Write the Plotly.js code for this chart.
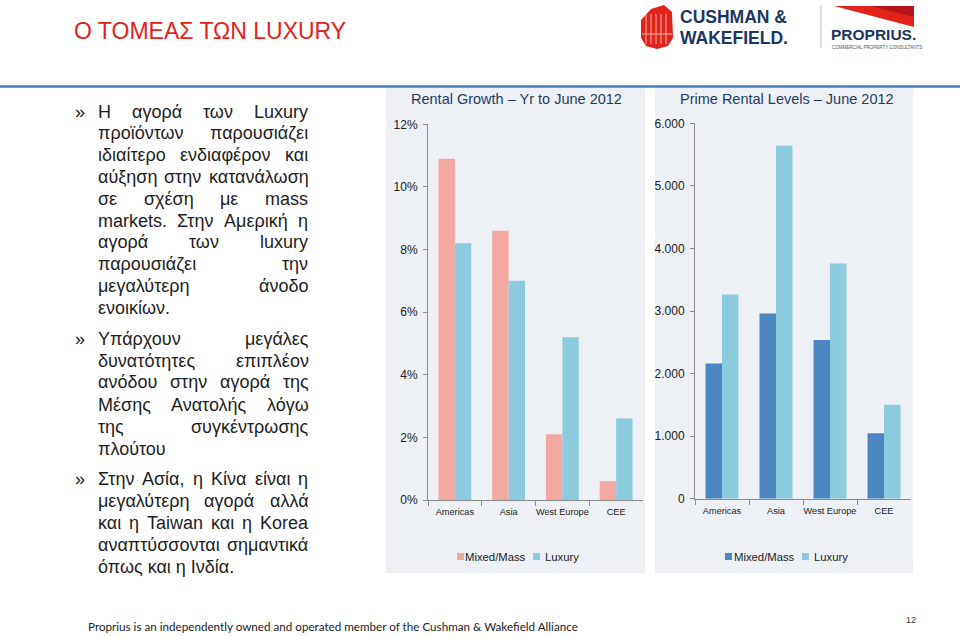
<!DOCTYPE html>
<html><head><meta charset="utf-8">
<script src="https://cdn.plot.ly/plotly-3.0.1.min.js"></script>
<style>html,body{margin:0;padding:0;background:#fff;}#chart{width:960px;height:636px;}</style>
</head><body><div id="chart"></div>
<script>
// ---------- DATA ----------
const categories = ['Americas', 'Asia', 'West Europe', 'CEE'];
const seriesNames = ['Mixed/Mass', 'Luxury'];
const growthMixed = [10.9, 8.6, 2.1, 0.6];      // % rental growth
const growthLuxury = [8.2, 7.0, 5.2, 2.6];
const rentMixed = [2160, 2960, 2535, 1045];      // prime rental levels
const rentLuxury = [3265, 5640, 3760, 1500];
const growthTicks = [0, 2, 4, 6, 8, 10, 12];
const growthTickLabels = ['0%', '2%', '4%', '6%', '8%', '10%', '12%'];
const rentTicks = [0, 1000, 2000, 3000, 4000, 5000, 6000];
const rentTickLabels = ['0', '1.000', '2.000', '3.000', '4.000', '5.000', '6.000'];
const chartTitles = ['Rental Growth \u2013 Yr to June 2012', 'Prime Rental Levels \u2013 June 2012'];
const pageTitle = 'Ο ΤΟΜΕΑΣ ΤΩΝ LUXURY';
const paragraph1 = ['Η αγορά των Luxury', 'προϊόντων παρουσιάζει', 'ιδιαίτερο ενδιαφέρον και', 'αύξηση στην κατανάλωση', 'σε σχέση με mass', 'markets. Στην Αμερική η', 'αγορά των luxury', 'παρουσιάζει την', 'μεγαλύτερη άνοδο', 'ενοικίων.'];
const paragraph2 = ['Υπάρχουν μεγάλες', 'δυνατότητες επιπλέον', 'ανόδου στην αγορά της', 'Μέσης Ανατολής λόγω', 'της συγκέντρωσης', 'πλούτου'];
const paragraph3 = ['Στην Ασία, η Κίνα είναι η', 'μεγαλύτερη αγορά αλλά', 'και η Taiwan και η Korea', 'αναπτύσσονται σημαντικά', 'όπως και η Ινδία.'];
const footerText = 'Proprius is an independently owned and operated member of the Cushman & Wakefield Alliance';
const pageNumber = '12';

// ---------- LAYOUT HELPERS ----------
const W = 960, H = 636;
const px = x => x / W;
const py = y => 1 - y / H;
const SANS = 'Liberation Sans, Arial, sans-serif';
const annotations = [];
const shapes = [];

function txt(text, x, y, opts) {
  opts = opts || {};
  annotations.push({
    text: text, xref: 'paper', yref: 'paper', x: px(x), y: py(y),
    xanchor: opts.xanchor || 'left', yanchor: opts.yanchor || 'middle',
    showarrow: false, borderpad: 0, borderwidth: 0,
    font: {family: opts.family || SANS, size: opts.size || 12, color: opts.color || '#222',
           weight: opts.weight || 'normal'}
  });
}

// colours
const pink = '#f4a8a2', teal = '#8ccbde', blue = '#4b86c1';

// background panels and divider line
shapes.push({type: 'rect', xref: 'paper', yref: 'paper', layer: 'below', x0: px(386), x1: px(645), y0: py(573), y1: py(88), fillcolor: '#edf1f5', line: {width: 0}});
shapes.push({type: 'rect', xref: 'paper', yref: 'paper', layer: 'below', x0: px(655), x1: px(913), y0: py(573), y1: py(88), fillcolor: '#edf1f5', line: {width: 0}});
shapes.push({type: 'line', xref: 'paper', yref: 'paper', x0: 0, x1: 1, y0: py(86.5), y1: py(86.5), line: {color: '#4a7ebb', width: 2.5}});

// page title
txt(pageTitle, 74, 31, {size: 23, color: '#e2211c'});

// logo (approximation)
function pathPx(pts) { return 'M' + pts.map(p => px(p[0]) + ',' + py(p[1])).join(' L') + ' Z'; }
shapes.push({type: 'path', xref: 'paper', yref: 'paper', path: pathPx([[641,20],[651,9],[664,5],[672,12],[673,38],[668,46],[657,49],[646,46],[641,38]]), fillcolor: '#e2231a', line: {width: 0}});
[646, 651, 656, 661, 666].forEach(x => shapes.push({type: 'line', xref: 'paper', yref: 'paper', x0: px(x), x1: px(x), y0: py(14), y1: py(44), line: {color: '#f6b3ad', width: 1}}));
shapes.push({type: 'line', xref: 'paper', yref: 'paper', x0: px(642), x1: px(672), y0: py(34), y1: py(34), line: {color: '#f6b3ad', width: 1}});
txt('CUSHMAN &amp;', 680, 17, {size: 17.5, color: '#1b3660', weight: 'bold'});
txt('WAKEFIELD.', 680, 38.5, {size: 17.5, color: '#1b3660', weight: 'bold'});
shapes.push({type: 'line', xref: 'paper', yref: 'paper', x0: px(821), x1: px(821), y0: py(5), y1: py(48), line: {color: '#b9bec6', width: 1}});
shapes.push({type: 'path', xref: 'paper', yref: 'paper', path: pathPx([[834,6],[914,6],[914,27]]), fillcolor: '#e2231a', line: {width: 0}});
shapes.push({type: 'path', xref: 'paper', yref: 'paper', path: pathPx([[870,6],[914,6],[914,17]]), fillcolor: '#b5161b', line: {width: 0}});
txt('PROPRIUS.', 831, 34.5, {size: 15.5, color: '#1b3660', weight: 'bold'});
txt('COMMERCIAL PROPERTY CONSULTANTS', 832, 47.5, {size: 4.5, color: '#555'});

// chart titles
txt(chartTitles[0], 516, 99, {xanchor: 'center', size: 14.5, color: '#1f3c64'});
txt(chartTitles[1], 787, 99, {xanchor: 'center', size: 14.5, color: '#1f3c64'});

// legends (compact, as in the reference)
function legendItem(color, label, sx, tx) {
  shapes.push({type: 'rect', xref: 'paper', yref: 'paper', x0: px(sx), x1: px(sx + 7), y0: py(560), y1: py(553), fillcolor: color, line: {width: 0}});
  txt(label, tx, 556.5, {size: 11.3, color: '#222'});
}
legendItem(pink, seriesNames[0], 457, 465);
legendItem(teal, seriesNames[1], 533, 545);
legendItem(blue, seriesNames[0], 725, 734);
legendItem(teal, seriesNames[1], 802, 814);

// body text (justified)
const bodySize = 18;
const ctx = document.createElement('canvas').getContext('2d');
ctx.font = bodySize + 'px "Liberation Sans"';
const textLeft = 97.5, textRight = 308.5;
function addLine(line, y, justify) {
  const words = line.split(' ');
  if (!justify || words.length === 1) { txt(line, textLeft, y, {size: bodySize, color: '#1e1e1e'}); return; }
  const widths = words.map(w => ctx.measureText(w).width);
  const total = widths.reduce((a, b) => a + b, 0);
  const gap = Math.max(3, (textRight - textLeft - total) / (words.length - 1));
  let x = textLeft;
  words.forEach((w, i) => { txt(w, x, y, {size: bodySize, color: '#1e1e1e'}); x += widths[i] + gap; });
}
function addParagraph(lines, y0, step) {
  txt('\u00bb', 74.5, y0, {size: bodySize, color: '#1e1e1e'});
  lines.forEach((l, i) => addLine(l, y0 + i * step, i < lines.length - 1));
}
addParagraph(paragraph1, 111.5, 21.8);
addParagraph(paragraph2, 338.5, 22);
addParagraph(paragraph3, 478.5, 22.05);

// footer
ctx.font = '13px Lato';
const footerSize = 13 * 492 / ctx.measureText(footerText).width;
txt(footerText.replace('&', '&amp;'), 88, 626, {family: 'Lato, sans-serif', size: footerSize, color: '#222'});
txt(pageNumber, 911, 620, {xanchor: 'center', size: 9, color: '#333'});

// ---------- TRACES ----------
const traces = [
  {type: 'bar', x: categories, y: growthMixed, name: seriesNames[0], marker: {color: pink}, xaxis: 'x', yaxis: 'y', hoverinfo: 'skip'},
  {type: 'bar', x: categories, y: growthLuxury, name: seriesNames[1], marker: {color: teal}, xaxis: 'x', yaxis: 'y', hoverinfo: 'skip'},
  {type: 'bar', x: categories, y: rentMixed, name: seriesNames[0], marker: {color: blue}, xaxis: 'x2', yaxis: 'y2', hoverinfo: 'skip'},
  {type: 'bar', x: categories, y: rentLuxury, name: seriesNames[1], marker: {color: teal}, xaxis: 'x2', yaxis: 'y2', hoverinfo: 'skip'}
];

const xCommon = {showline: true, linecolor: '#8c8c8c', linewidth: 1, ticks: 'outside', tickson: 'boundaries', ticklen: 5, tickcolor: '#8c8c8c', tickangle: 0, ticklabelstandoff: 3, showgrid: false, zeroline: false, fixedrange: true, tickfont: {family: SANS, size: 9.2, color: '#222'}};
const yCommon = {showline: true, linecolor: '#8c8c8c', linewidth: 1, ticks: 'outside', ticklen: 4, tickcolor: '#8c8c8c', ticklabelstandoff: 3, showgrid: false, zeroline: false, fixedrange: true, tickfont: {family: SANS, size: 12, color: '#222'}};

const layout = {
  width: W, height: H, margin: {l: 0, r: 0, t: 0, b: 0},
  paper_bgcolor: '#ffffff', plot_bgcolor: 'rgba(0,0,0,0)',
  barmode: 'group', bargap: 0.39, bargroupgap: 0,
  showlegend: false,
  xaxis: Object.assign({}, xCommon, {domain: [px(428), px(643)], anchor: 'y'}),
  yaxis: Object.assign({}, yCommon, {domain: [py(500), py(124.3)], anchor: 'x', range: [0, 12], tickmode: 'array', tickvals: growthTicks, ticktext: growthTickLabels}),
  xaxis2: Object.assign({}, xCommon, {domain: [px(695), px(911)], anchor: 'y2'}),
  yaxis2: Object.assign({}, yCommon, {domain: [py(498.7), py(123.3)], anchor: 'x2', range: [0, 6000], tickmode: 'array', tickvals: rentTicks, ticktext: rentTickLabels}),
  annotations: annotations,
  shapes: shapes
};

Plotly.newPlot('chart', traces, layout, {staticPlot: true, displayModeBar: false});
</script>
</body></html>
